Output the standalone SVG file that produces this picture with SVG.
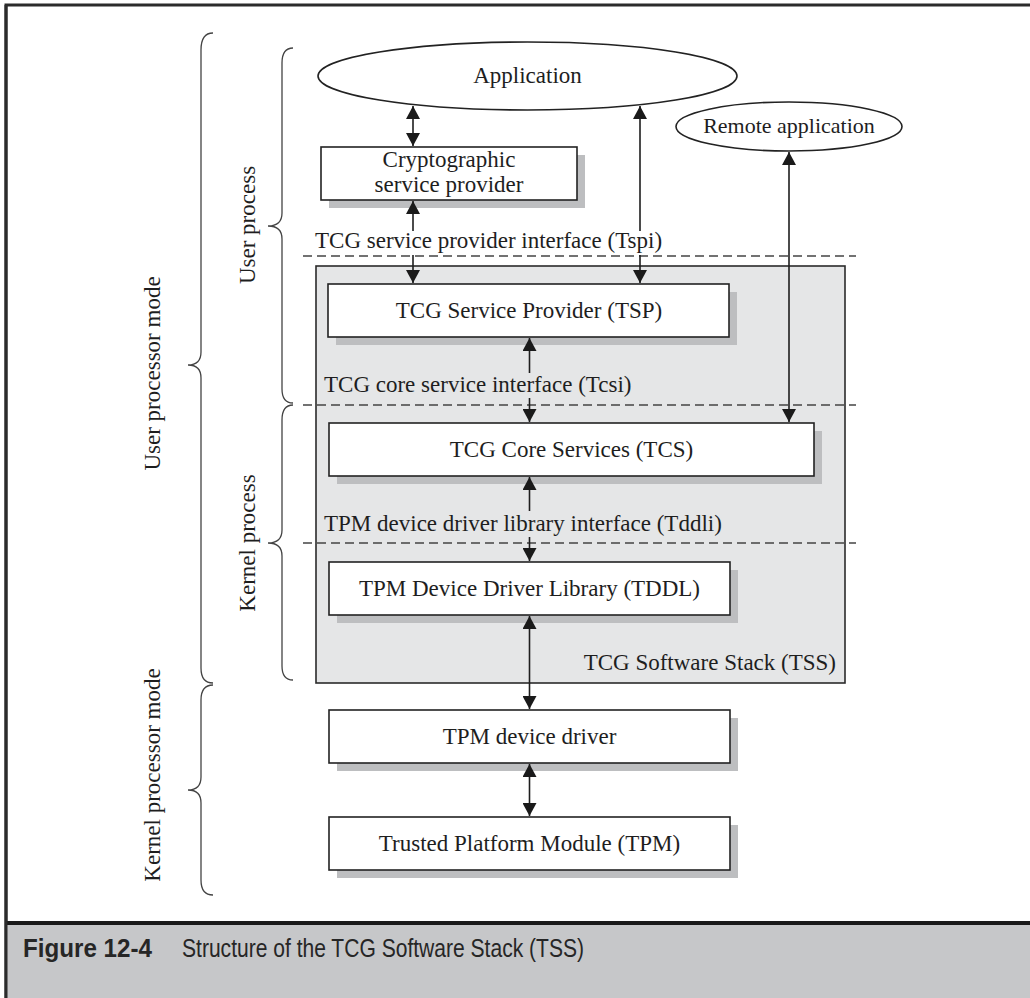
<svg xmlns="http://www.w3.org/2000/svg" width="1030" height="998" viewBox="0 0 1030 998">
<style>
  .t { font-family: "Liberation Serif", "Times New Roman", serif; font-size: 23px; fill: #1e1e1e; }
  .c { text-anchor: middle; }
  .box { fill: #ffffff; stroke: #222222; stroke-width: 1.6; }
  .sh { fill: #bdbec0; }
  .dash { stroke: #444444; stroke-width: 1.6; stroke-dasharray: 9 5; fill: none; }
  .brace { fill: none; stroke: #444444; stroke-width: 1.3; }
  .ln { stroke: #1e1e1e; stroke-width: 1.6; fill: none; }
  .both { marker-start: url(#ah); marker-end: url(#ah); }
  .end { marker-end: url(#ah); }
  .cap { font-family: "Liberation Sans", Arial, sans-serif; font-size: 26px; fill: #262626; }
</style>
<defs>
  <marker id="ah" viewBox="0 0 13 14" refX="13" refY="7" markerWidth="13" markerHeight="14" markerUnits="userSpaceOnUse" orient="auto-start-reverse">
    <path d="M0,0 L13,7 L0,14 z" fill="#1a1a1a"/>
  </marker>
</defs>

<!-- frame and caption band -->
<rect x="6" y="5" width="1040" height="1010" fill="#ffffff" stroke="#2b2b2b" stroke-width="3"/>
<rect x="6" y="923" width="1030" height="80" fill="#c6c7c9"/>
<line x1="6" y1="923" x2="1030" y2="923" stroke="#1a1a1a" stroke-width="4"/>
<line x1="6" y1="5" x2="6" y2="998" stroke="#2b2b2b" stroke-width="3"/>
<text class="cap" x="23" y="957" font-weight="bold" textLength="129" lengthAdjust="spacingAndGlyphs">Figure 12-4</text>
<text class="cap" x="182" y="957" textLength="402" lengthAdjust="spacingAndGlyphs">Structure of the TCG Software Stack (TSS)</text>

<!-- braces and side labels -->
<g id="brace-user-processor-mode">
  <path class="brace" d="M213,33 Q201,33 201,50 L201,352 Q201,365 188,365 Q201,365 201,378 L201,668 Q201,683 213,683"/>
  <text class="t c" transform="translate(160,373.5) rotate(-90)">User processor mode</text>
</g>
<g id="brace-kernel-processor-mode">
  <path class="brace" d="M213,685 Q201,685 201,700 L201,777 Q201,790 188,790 Q201,790 201,803 L201,880 Q201,895 213,895"/>
  <text class="t c" transform="translate(160,775) rotate(-90)">Kernel processor mode</text>
</g>
<g id="brace-user-process">
  <path class="brace" d="M293,48 Q282,48 282,63 L282,213 Q282,226 268,226 Q282,226 282,239 L282,389 Q282,403 293,403"/>
  <text class="t c" transform="translate(255,225) rotate(-90)">User process</text>
</g>
<g id="brace-kernel-process">
  <path class="brace" d="M293,405 Q282,405 282,420 L282,530 Q282,543 268,543 Q282,543 282,556 L282,666 Q282,680 293,680"/>
  <text class="t c" transform="translate(255,543) rotate(-90)">Kernel process</text>
</g>

<!-- TSS container -->
<g id="tss">
  <rect x="316" y="266" width="529" height="417" fill="#e5e6e7" stroke="#2b2b2b" stroke-width="1.6"/>
  <text class="t" x="836" y="670" text-anchor="end">TCG Software Stack (TSS)</text>
</g>

<!-- interface dashed lines and labels -->
<g id="iface-tspi">
  <line class="dash" x1="303" y1="256" x2="856" y2="256"/>
  <text class="t" x="315" y="248">TCG service provider interface (Tspi)</text>
</g>
<g id="iface-tcsi">
  <line class="dash" x1="303" y1="405" x2="856" y2="405"/>
  <text class="t" x="324" y="392">TCG core service interface (Tcsi)</text>
</g>
<g id="iface-tddli">
  <line class="dash" x1="303" y1="543" x2="856" y2="543"/>
  <text class="t" x="324" y="531">TPM device driver library interface (Tddli)</text>
</g>

<!-- nodes -->
<g id="application">
  <ellipse cx="527.5" cy="76" rx="209.5" ry="34" fill="#ffffff" stroke="#222222" stroke-width="1.6"/>
  <text class="t c" x="527.5" y="83">Application</text>
</g>
<g id="remote-application">
  <ellipse cx="789" cy="126.5" rx="113" ry="24.5" fill="#ffffff" stroke="#222222" stroke-width="1.6"/>
  <text class="t c" x="789" y="133" style="font-size:22px">Remote application</text>
</g>
<g id="csp">
  <rect class="sh" x="329" y="155" width="256" height="53"/>
  <rect class="box" x="321" y="147" width="256" height="53"/>
  <text class="t c" x="449" y="167">Cryptographic</text>
  <text class="t c" x="449" y="192">service provider</text>
</g>
<g id="tsp">
  <rect class="sh" x="336" y="292" width="401" height="53"/>
  <rect class="box" x="328" y="284" width="401" height="53"/>
  <text class="t c" x="529" y="318">TCG Service Provider (TSP)</text>
</g>
<g id="tcs">
  <rect class="sh" x="337" y="431" width="485" height="53"/>
  <rect class="box" x="329" y="423" width="485" height="53"/>
  <text class="t c" x="571.5" y="457">TCG Core Services (TCS)</text>
</g>
<g id="tddl">
  <rect class="sh" x="337" y="570" width="401" height="53"/>
  <rect class="box" x="329" y="562" width="401" height="53"/>
  <text class="t c" x="529.5" y="596">TPM Device Driver Library (TDDL)</text>
</g>
<g id="tpm-device-driver">
  <rect class="sh" x="337" y="718" width="401" height="53"/>
  <rect class="box" x="329" y="710" width="401" height="53"/>
  <text class="t c" x="529.5" y="744">TPM device driver</text>
</g>
<g id="tpm">
  <rect class="sh" x="337" y="825" width="401" height="53"/>
  <rect class="box" x="329" y="817" width="401" height="53"/>
  <text class="t c" x="529.5" y="851">Trusted Platform Module (TPM)</text>
</g>

<!-- connectors -->
<g id="connectors">
  <line class="ln both" x1="413" y1="106" x2="413" y2="146"/>
  <line class="ln end" x1="413" y1="231" x2="413" y2="201"/>
  <line class="ln end" x1="413" y1="255" x2="413" y2="283"/>
  <line class="ln end" x1="640" y1="231" x2="640" y2="106"/>
  <line class="ln end" x1="640" y1="255" x2="640" y2="283"/>
  <line class="ln both" x1="789" y1="152" x2="789" y2="422"/>
  <line class="ln end" x1="529.5" y1="373" x2="529.5" y2="338"/>
  <line class="ln end" x1="529.5" y1="398" x2="529.5" y2="422"/>
  <line class="ln end" x1="529.5" y1="511" x2="529.5" y2="477"/>
  <line class="ln end" x1="529.5" y1="537" x2="529.5" y2="561"/>
  <line class="ln both" x1="529.5" y1="616" x2="529.5" y2="709"/>
  <line class="ln both" x1="529.5" y1="764" x2="529.5" y2="816"/>
</g>
</svg>
